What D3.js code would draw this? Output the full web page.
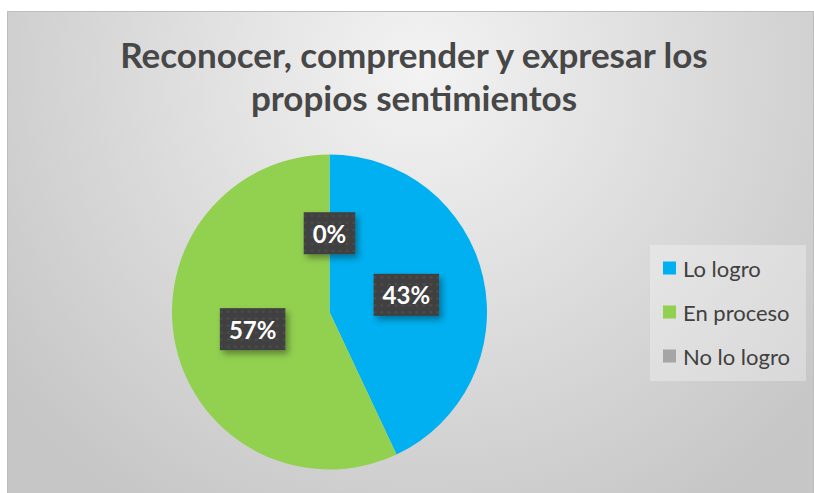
<!DOCTYPE html>
<html>
<head>
<meta charset="utf-8">
<script src="https://cdn.jsdelivr.net/npm/d3@7"></script>
<style>
  html, body { margin: 0; padding: 0; background: #fff; }
  #chart { width: 814px; height: 493px; }
  text { font-family: Lato, "Open Sans", sans-serif; }
</style>
</head>
<body>
<div id="chart"></div>
<script>
// Chart data
const categories = ["Lo logro", "En proceso", "No lo logro"];
const values = [43, 57, 0];
const colors = ["#00b0f0", "#92d050", "#a5a5a5"];
const titleLines = ["Reconocer, comprender y expresar los", "propios sentimientos"];

const width = 814;
const height = 493;

const svg = d3.select("#chart")
    .append("svg")
    .attr("width", width)
    .attr("height", height);

const defs = svg.append("defs");

// Background gradient (light in the middle, grey at the corners)
const bg = defs.append("radialGradient")
    .attr("id", "bg")
    .attr("gradientUnits", "userSpaceOnUse")
    .attr("cx", 420).attr("cy", 70).attr("r", 520);
bg.append("stop").attr("offset", "0%").attr("stop-color", "#f3f3f3");
bg.append("stop").attr("offset", "100%").attr("stop-color", "#c6c6c6");

// Dotted dark fill for the data labels
const dots = defs.append("pattern")
    .attr("id", "dots")
    .attr("patternUnits", "userSpaceOnUse")
    .attr("width", 7).attr("height", 7);
dots.append("rect").attr("width", 7).attr("height", 7).attr("fill", "#3f3f3f");
dots.append("circle").attr("cx", 3.5).attr("cy", 3.5).attr("r", 1.6).attr("fill", "#4b4b4b");

const shadow = defs.append("filter")
    .attr("id", "shadow")
    .attr("x", "-30%").attr("y", "-30%")
    .attr("width", "170%").attr("height", "170%");
shadow.append("feDropShadow")
    .attr("dx", 3).attr("dy", 4)
    .attr("stdDeviation", 3)
    .attr("flood-color", "#000")
    .attr("flood-opacity", 0.35);

// Chart frame
svg.append("rect")
    .attr("x", 7.5).attr("y", 11.5)
    .attr("width", 806).attr("height", 490)
    .attr("fill", "url(#bg)")
    .attr("stroke", "#bdbdbd")
    .attr("stroke-width", 1);

// Title
const title = svg.append("text")
    .attr("text-anchor", "middle")
    .attr("font-weight", "bold")
    .attr("font-size", 35)
    .attr("fill", "#474747");
titleLines.forEach((line, i) => {
    title.append("tspan")
        .attr("x", 414)
        .attr("y", 68 + i * 43)
        .text(line);
});

// Pie
const cx = 329.5, cy = 312, radius = 157.5;
const total = d3.sum(values);
const pie = d3.pie().sort(null).value(d => d.value);
const arcs = pie(categories.map((c, i) => ({ name: c, value: values[i], color: colors[i] })));
const arc = d3.arc().innerRadius(0).outerRadius(radius);

const g = svg.append("g").attr("transform", `translate(${cx},${cy})`);

g.selectAll("path")
    .data(arcs)
    .enter()
    .append("path")
    .attr("d", arc)
    .attr("fill", d => d.data.color);

// Data labels
const fmt = d3.format(".0%");
arcs.forEach(d => {
    const [x, y] = arc.centroid(d);
    const label = g.append("g").attr("transform", `translate(${x},${y})`);
    const txt = label.append("text")
        .attr("text-anchor", "middle")
        .attr("dominant-baseline", "central")
        .attr("font-weight", "bold")
        .attr("font-size", 24)
        .attr("fill", "#ffffff")
        .text(fmt(d.data.value / total));
    const w = txt.node().getComputedTextLength() + 18;
    const h = 42;
    label.insert("rect", "text")
        .attr("x", -w / 2).attr("y", -h / 2)
        .attr("width", w).attr("height", h)
        .attr("fill", "url(#dots)")
        .attr("filter", "url(#shadow)");
});

// Legend
const legend = svg.append("g");
legend.append("rect")
    .attr("x", 650).attr("y", 245)
    .attr("width", 156).attr("height", 136)
    .attr("fill", "#ffffff")
    .attr("fill-opacity", 0.3);

categories.forEach((c, i) => {
    const y = 268 + i * 44;
    legend.append("rect")
        .attr("x", 663).attr("y", y - 6.5)
        .attr("width", 13).attr("height", 13)
        .attr("fill", colors[i]);
    legend.append("text")
        .attr("x", 683).attr("y", y)
        .attr("dominant-baseline", "central")
        .attr("font-size", 22)
        .attr("fill", "#404040")
        .text(c);
});
</script>
</body>
</html>
